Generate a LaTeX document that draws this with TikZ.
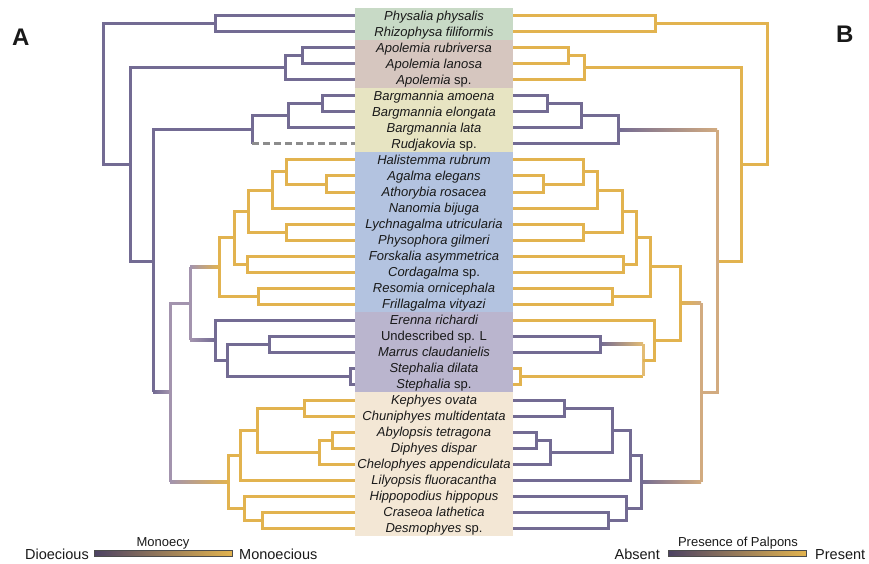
\documentclass[tikz,border=0pt]{standalone}
\usepackage{fontspec}
\setmainfont{Liberation Sans}
\usetikzlibrary{calc}
\definecolor{pur}{HTML}{736B93}
\definecolor{gld}{HTML}{E2B34F}
\definecolor{mauve}{HTML}{A394AE}
\definecolor{tanc}{HTML}{D2AB80}
\definecolor{lgld}{HTML}{E3BC74}
\definecolor{bardark}{HTML}{4C4263}
\definecolor{barmid}{HTML}{B68E9E}
\definecolor{bgrn}{HTML}{C8DAC6}
\definecolor{bbrn}{HTML}{D6C6BF}
\definecolor{bylw}{HTML}{E7E4C2}
\definecolor{bblu}{HTML}{B3C3E0}
\definecolor{blav}{HTML}{BAB5CE}
\definecolor{btan}{HTML}{F3E7D5}
\newcommand{\gradbr}[4]{\shade[left color=#3,right color=#4] ($(#1)+(0,-1.5)$) rectangle ($(#2)+(0,1.5)$);}
\begin{document}
\begin{tikzpicture}[x=1pt,y=-1pt,
    brline/.style={line width=3pt},
    purbr/.style={brline,draw=pur},
    gldbr/.style={brline,draw=gld},
    mauvebr/.style={brline,draw=mauve},
    tanbr/.style={brline,draw=tanc},
    lgldbr/.style={brline,draw=lgld},
    dashbr/.style={brline,draw=gray!90,dash pattern=on 7pt off 4pt},
    taxon/.style={font=\fontsize{13}{15}\selectfont,text=black!90,anchor=base,inner sep=0pt},
    legend/.style={font=\fontsize{14.5}{16}\selectfont,text=black!90,inner sep=0pt},
    legtitle/.style={font=\fontsize{13}{15}\selectfont,text=black!90,inner sep=0pt,anchor=base},
    colbar/.style={draw=black!70,line width=.6pt,minimum width=138pt,minimum height=5.5pt,inner sep=0pt,
        left color=bardark,middle color=barmid,right color=gld},
    panel/.style={font=\fontsize{24}{24}\selectfont\bfseries,text=black!90,anchor=base west,inner sep=0pt}]
\useasboundingbox (0,0) rectangle (869,564);
\fill[bgrn] (355,8) rectangle (513,40);
\fill[bbrn] (355,40) rectangle (513,88);
\fill[bylw] (355,88) rectangle (513,152);
\fill[bblu] (355,152) rectangle (513,312);
\fill[blav] (355,312) rectangle (513,392);
\fill[btan] (355,392) rectangle (513,536);
\foreach \t [count=\i] in {{\textit{Physalia physalis}},{\textit{Rhizophysa filiformis}},
    {\textit{Apolemia rubriversa}},{\textit{Apolemia lanosa}},{\textit{Apolemia} sp.},
    {\textit{Bargmannia amoena}},{\textit{Bargmannia elongata}},{\textit{Bargmannia lata}},{\textit{Rudjakovia} sp.},
    {\textit{Halistemma rubrum}},{\textit{Agalma elegans}},{\textit{Athorybia rosacea}},{\textit{Nanomia bijuga}},
    {\textit{Lychnagalma utricularia}},{\textit{Physophora gilmeri}},{\textit{Forskalia asymmetrica}},
    {\textit{Cordagalma} sp.},{\textit{Resomia ornicephala}},{\textit{Frillagalma vityazi}},
    {\textit{Erenna richardi}},{Undescribed sp. L},{\textit{Marrus claudanielis}},{\textit{Stephalia dilata}},{\textit{Stephalia} sp.},
    {\textit{Kephyes ovata}},{\textit{Chuniphyes multidentata}},{\textit{Abylopsis tetragona}},{\textit{Diphyes dispar}},
    {\textit{Chelophyes appendiculata}},{\textit{Lilyopsis fluoracantha}},{\textit{Hippopodius hippopus}},
    {\textit{Craseoa lathetica}},{\textit{Desmophyes} sp.}}
{
    \node[taxon] (t\i) at (434,16*\i+4.6) {\t};
    \coordinate (l\i) at (355,16*\i);
    \coordinate (r\i) at (513,16*\i);
}
\coordinate (aPR) at (215,24);
\coordinate (aAp1) at (302,56);
\coordinate (aAp) at (285,68);
\coordinate (aBa1) at (322,104);
\coordinate (aBa2) at (288,116);
\coordinate (aBa) at (252,130);
\coordinate (aHa1) at (326,184);
\coordinate (aHa) at (286,172);
\coordinate (aNa) at (272,190);
\coordinate (aLy) at (286,232);
\coordinate (aPh3) at (248,211);
\coordinate (aFo) at (247,264);
\coordinate (aPh2) at (234,237.5);
\coordinate (aRe) at (258,296);
\coordinate (aPh) at (219,266.75);
\coordinate (aUn) at (269,344);
\coordinate (aSt) at (350,376);
\coordinate (aMa) at (227,360);
\coordinate (aEr) at (215,340);
\coordinate (aPE) at (190,303.4);
\coordinate (aKe) at (304,408);
\coordinate (aAb) at (332,440);
\coordinate (aCh) at (319,452);
\coordinate (aKC) at (257,430);
\coordinate (aLi) at (240,455);
\coordinate (aCr) at (262,520);
\coordinate (aHi) at (244,508);
\coordinate (aCa) at (228,481.5);
\coordinate (aCo) at (170,392.4);
\coordinate (aCB) at (153,261.2);
\coordinate (aCA) at (130,164.6);
\coordinate (aRoot) at (103,94.3);
\coordinate (bPR) at (655,24);
\coordinate (bAp1) at (568,56);
\coordinate (bAp) at (584,68);
\coordinate (bBa1) at (547,104);
\coordinate (bBa2) at (581,116);
\coordinate (bBa) at (618,130);
\coordinate (bHa1) at (543,184);
\coordinate (bHa) at (583,172);
\coordinate (bNa) at (597,190);
\coordinate (bLy) at (583,232);
\coordinate (bPh3) at (622,211);
\coordinate (bFo) at (623,264);
\coordinate (bPh2) at (636,237.5);
\coordinate (bRe) at (612,296);
\coordinate (bPh) at (650,266.75);
\coordinate (bUn) at (600,344);
\coordinate (bSt) at (520,376);
\coordinate (bMa) at (643,360);
\coordinate (bEr) at (654,340);
\coordinate (bPE) at (680,303.4);
\coordinate (bKe) at (564,408);
\coordinate (bAb) at (536,440);
\coordinate (bCh) at (550,452);
\coordinate (bKC) at (612,430);
\coordinate (bLi) at (630,455);
\coordinate (bCr) at (608,520);
\coordinate (bHi) at (626,508);
\coordinate (bCa) at (641,481.5);
\coordinate (bCo) at (701,392.4);
\coordinate (bCB) at (717,261.2);
\coordinate (bCA) at (741,164.6);
\coordinate (bRoot) at (767,94.3);
\gradbr{aPE |- aPh}{aPh}{mauve}{gld}
\gradbr{aPE |- aEr}{aEr}{mauve}{pur}
\gradbr{aCo |- aCa}{aCa}{mauve}{gld}
\gradbr{aCB |- aCo}{aCo}{pur}{mauve}
\draw[purbr] (l1) -| (aPR) |- (l2);
\draw[purbr] (l3) -| (aAp1) |- (l4);
\draw[purbr] (aAp1) -| (aAp) |- (l5);
\draw[purbr] (l6) -| (aBa1) |- (l7);
\draw[purbr] (aBa1) -| (aBa2) |- (l8);
\draw[purbr] (aBa2) -| (aBa) -- (aBa |- l9);
\draw[dashbr] (aBa |- l9) -- (l9);
\draw[gldbr] (l11) -| (aHa1) |- (l12);
\draw[gldbr] (l10) -| (aHa) |- (aHa1);
\draw[gldbr] (aHa) -| (aNa) |- (l13);
\draw[gldbr] (l14) -| (aLy) |- (l15);
\draw[gldbr] (aNa) -| (aPh3) |- (aLy);
\draw[gldbr] (l16) -| (aFo) |- (l17);
\draw[gldbr] (aPh3) -| (aPh2) |- (aFo);
\draw[gldbr] (l18) -| (aRe) |- (l19);
\draw[gldbr] (aPh2) -| (aPh) |- (aRe);
\draw[purbr] (l21) -| (aUn) |- (l22);
\draw[purbr] (l23) -| (aSt) |- (l24);
\draw[purbr] (aUn) -| (aMa) |- (aSt);
\draw[purbr] (l20) -| (aEr) |- (aMa);
\draw[mauvebr] (aPE |- aPh) -- (aPE |- aEr);
\draw[gldbr] (l25) -| (aKe) |- (l26);
\draw[gldbr] (l27) -| (aAb) |- (l28);
\draw[gldbr] (aAb) -| (aCh) |- (l29);
\draw[gldbr] (aKe) -| (aKC) |- (aCh);
\draw[gldbr] (aKC) -| (aLi) |- (l30);
\draw[gldbr] (l32) -| (aCr) |- (l33);
\draw[gldbr] (l31) -| (aHi) |- (aCr);
\draw[gldbr] (aLi) -| (aCa) |- (aHi);
\draw[mauvebr] (aPE) -| (aCo) -- (aCo |- aCa);
\draw[purbr] (aBa) -| (aCB) -- (aCB |- aCo);
\draw[purbr] (aAp) -| (aCA) |- (aCB);
\draw[purbr] (aPR) -| (aRoot) |- (aCA);
\gradbr{bUn}{bMa |- bUn}{pur}{lgld}
\gradbr{bCa}{bCo |- bCa}{pur}{tanc}
\gradbr{bPE}{bCo |- bPE}{gld}{tanc}
\gradbr{bBa}{bCB |- bBa}{pur}{tanc}
\draw[gldbr] (r1) -| (bPR) |- (r2);
\draw[gldbr] (r3) -| (bAp1) |- (r4);
\draw[gldbr] (bAp1) -| (bAp) |- (r5);
\draw[purbr] (r6) -| (bBa1) |- (r7);
\draw[purbr] (bBa1) -| (bBa2) |- (r8);
\draw[purbr] (bBa2) -| (bBa) |- (r9);
\draw[gldbr] (r11) -| (bHa1) |- (r12);
\draw[gldbr] (r10) -| (bHa) |- (bHa1);
\draw[gldbr] (bHa) -| (bNa) |- (r13);
\draw[gldbr] (r14) -| (bLy) |- (r15);
\draw[gldbr] (bNa) -| (bPh3) |- (bLy);
\draw[gldbr] (r16) -| (bFo) |- (r17);
\draw[gldbr] (bPh3) -| (bPh2) |- (bFo);
\draw[gldbr] (r18) -| (bRe) |- (r19);
\draw[gldbr] (bPh2) -| (bPh) |- (bRe);
\draw[purbr] (r21) -| (bUn) |- (r22);
\draw[gldbr] (r23) -| (bSt) |- (r24);
\draw[gldbr] (bSt) -- (bMa |- bSt);
\draw[lgldbr] (bMa |- bUn) -- (bMa |- bSt);
\draw[gldbr] (r20) -| (bEr) |- (bMa);
\draw[gldbr] (bPh) -| (bPE) |- (bEr);
\draw[purbr] (r25) -| (bKe) |- (r26);
\draw[purbr] (r27) -| (bAb) |- (r28);
\draw[purbr] (bAb) -| (bCh) |- (r29);
\draw[purbr] (bKe) -| (bKC) |- (bCh);
\draw[purbr] (bKC) -| (bLi) |- (r30);
\draw[purbr] (r32) -| (bCr) |- (r33);
\draw[purbr] (r31) -| (bHi) |- (bCr);
\draw[purbr] (bLi) -| (bCa) |- (bHi);
\draw[tanbr] (bCo |- bPE) -- (bCo |- bCa);
\draw[gldbr] (bAp) -| (bCA) |- (bCB);
\draw[tanbr] (bCB |- bBa) -- (bCB |- bCo) -- (bCo);
\draw[gldbr] (bPR) -| (bRoot) |- (bCA);
\node[panel] (labA) at (12,46) {A};
\node[panel] (labB) at (836,43) {B};
\node[colbar] (monobar) at (163,553.2) {};
\node[legend,anchor=base east] (dio) at (89,559) {Dioecious};
\node[legend,anchor=base west] (mono) at (239,559) {Monoecious};
\node[legtitle] (monot) at (163,546.5) {Monoecy};
\node[colbar] (palpbar) at (737,553.2) {};
\node[legend,anchor=base east] (absent) at (660,559) {Absent};
\node[legend,anchor=base west] (present) at (815,559) {Present};
\node[legtitle] (palpt) at (738,546.5) {Presence of Palpons};
\end{tikzpicture}
\end{document}
